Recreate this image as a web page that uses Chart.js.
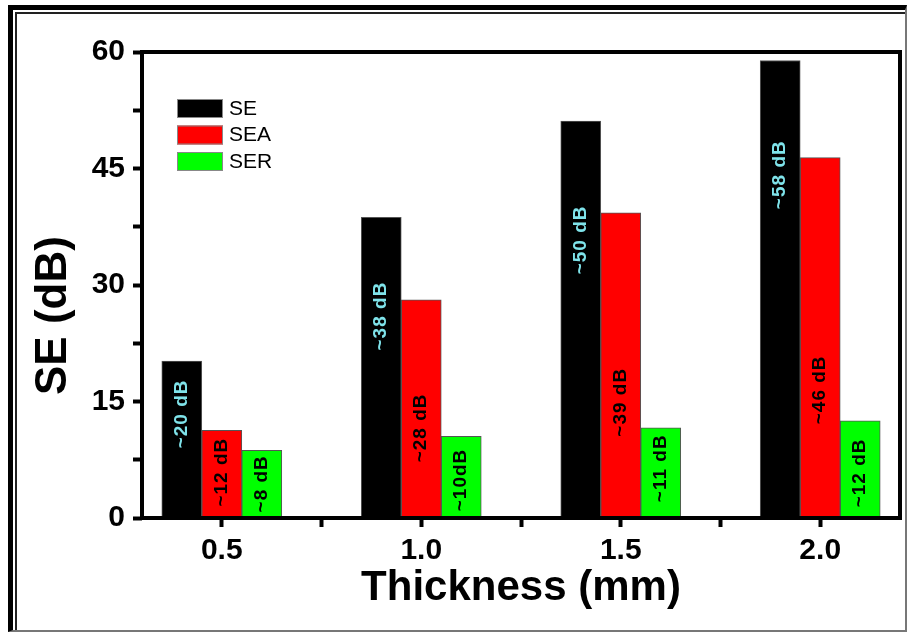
<!DOCTYPE html>
<html>
<head>
<meta charset="utf-8">
<title>SE vs Thickness</title>
<script src="https://cdn.jsdelivr.net/npm/chart.js@4.4.1/dist/chart.umd.min.js"></script>
<style>
  html, body { margin: 0; padding: 0; background: #fff; }
  #frame {
    position: absolute; left: 8px; top: 5px; width: 899px; height: 627px;
    box-sizing: border-box;
    border-left: 5px solid #000; border-top: 5px solid #000;
    border-right: 2px solid #777; border-bottom: 2px solid #777;
  }
  #frame::after {
    content: ''; position: absolute; left: 2px; top: 2px; right: 0; bottom: 0;
    border-left: 2px solid #222; border-top: 2px solid #222;
  }
  #chart { position: absolute; left: 0; top: 0; }
</style>
</head>
<body>
<div id="frame"></div>
<canvas id="chart" width="910" height="635"></canvas>
<script>
// values
const thickness = [0.5, 1.0, 1.5, 2.0];
const seValues = [20.2, 38.7, 51.1, 58.9];
const seaValues = [11.3, 28.1, 39.3, 46.4];
const serValues = [8.7, 10.5, 11.6, 12.5];

// in-bar annotations and where (in dB) their centre sits
const seTags = ['~20 dB', '~38 dB', '~50 dB', '~58 dB'];
const seaTags = ['~12 dB', '~28 dB', '~39 dB', '~46 dB'];
const serTags = ['~8 dB', '~10dB', '~11 dB', '~12 dB'];
const seTagAt = [13.4, 26.0, 35.8, 44.2];
const seaTagAt = [5.9, 11.6, 14.9, 16.5];
const serTagAt = [4.4, 4.9, 6.4, 5.8];

const xTicks = [0.5, 0.75, 1.0, 1.25, 1.5, 1.75, 2.0];
const xTickLabels = ['0.5', '', '1.0', '', '1.5', '', '2.0'];
const yTicks = [0, 7.5, 15, 22.5, 30, 37.5, 45, 52.5, 60];
const yTickLabels = ['0', '', '15', '', '30', '', '45', '', '60'];

const FONT = '"Liberation Sans", Arial, sans-serif';

const toPoints = (vals) => thickness.map((t, i) => ({ x: t, y: vals[i] }));

const decorations = {
  id: 'decorations',
  afterDatasetsDraw(chart) {
    const { ctx, chartArea: a, scales: { y } } = chart;
    ctx.save();

    // rotated value tags inside the bars
    ctx.font = 'bold 19px ' + FONT;
    ctx.letterSpacing = '1px';
    ctx.textAlign = 'center';
    ctx.textBaseline = 'middle';
    chart.data.datasets.forEach((ds, i) => {
      chart.getDatasetMeta(i).data.forEach((bar, j) => {
        ctx.save();
        ctx.translate(bar.x, y.getPixelForValue(ds.tagAt[j]));
        ctx.rotate(-Math.PI / 2);
        ctx.fillStyle = ds.tagColor;
        ctx.fillText(ds.tags[j], 0, 0);
        ctx.restore();
      });
    });
    ctx.letterSpacing = '0px';

    // box round the plot
    ctx.lineWidth = 4;
    ctx.strokeStyle = '#000';
    ctx.strokeRect(a.left, a.top, a.width, a.height);

    // legend, top-left inside the plot
    ctx.font = '21px ' + FONT;
    ctx.textAlign = 'left';
    chart.data.datasets.forEach((ds, i) => {
      const bx = a.left + 35;
      const by = a.top + 47 + i * 26.5;
      ctx.fillStyle = ds.backgroundColor;
      ctx.fillRect(bx, by, 46, 19);
      ctx.lineWidth = 1;
      ctx.strokeStyle = '#888';
      ctx.strokeRect(bx + 0.5, by + 0.5, 45, 18);
      ctx.fillStyle = '#000';
      ctx.fillText(ds.label, bx + 52, by + 10);
    });

    ctx.restore();
  }
};

const tickGrid = {
  display: true,
  offset: false,
  drawOnChartArea: false,
  tickLength: 9,
  tickWidth: 4,
  tickColor: '#000'
};

new Chart(document.getElementById('chart'), {
  type: 'bar',
  data: {
    datasets: [
      { label: 'SE', data: toPoints(seValues), backgroundColor: '#000000', borderColor: '#555', borderWidth: 1,
        tags: seTags, tagAt: seTagAt, tagColor: '#7fe3ea' },
      { label: 'SEA', data: toPoints(seaValues), backgroundColor: '#ff0000', borderColor: '#555', borderWidth: 1,
        tags: seaTags, tagAt: seaTagAt, tagColor: '#000' },
      { label: 'SER', data: toPoints(serValues), backgroundColor: '#00ff00', borderColor: '#555', borderWidth: 1,
        tags: serTags, tagAt: serTagAt, tagColor: '#000' }
    ]
  },
  options: {
    responsive: false,
    animation: false,
    layout: { padding: { top: 52, right: 10, left: 0, bottom: 0 } },
    barThickness: 40,
    plugins: {
      legend: { display: false },
      tooltip: { enabled: false }
    },
    scales: {
      x: {
        type: 'linear',
        min: 0.3,
        max: 2.2,
        offset: false,
        afterBuildTicks: (s) => { s.ticks = xTicks.map((v) => ({ value: v })); },
        afterFit: (s) => { s.height = 117; },
        grid: tickGrid,
        border: { display: false },
        ticks: {
          callback: (v, i) => xTickLabels[i],
          color: '#000',
          padding: 6,
          maxRotation: 0,
          autoSkip: false,
          font: { family: FONT, size: 30, weight: 'bold' }
        },
        title: {
          display: true,
          text: 'Thickness (mm)',
          color: '#000',
          font: { family: FONT, size: 42, weight: 'bold' },
          padding: { top: 0, bottom: 21 }
        }
      },
      y: {
        min: 0,
        max: 60,
        afterBuildTicks: (s) => { s.ticks = yTicks.map((v) => ({ value: v })); },
        afterFit: (s) => { s.width = 142; },
        grid: tickGrid,
        border: { display: false },
        ticks: {
          callback: (v, i) => yTickLabels[i],
          color: '#000',
          padding: 8,
          font: { family: FONT, size: 30, weight: 'bold' }
        },
        title: {
          display: true,
          text: 'SE (dB)     ',
          color: '#000',
          font: { family: FONT, size: 44, weight: 'bold' },
          padding: { top: 27, bottom: 0 }
        }
      }
    }
  },
  plugins: [decorations]
});
</script>
</body>
</html>
